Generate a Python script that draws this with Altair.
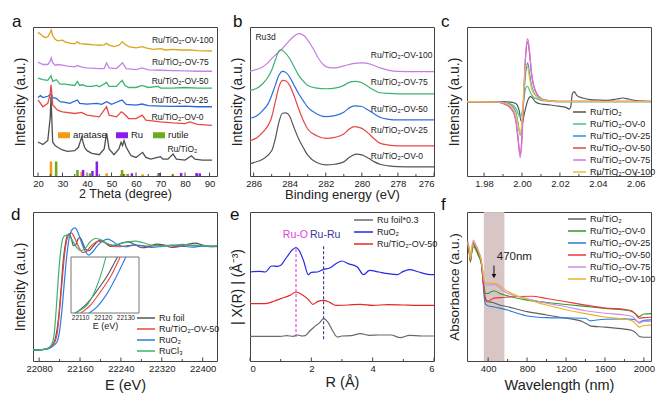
import altair as alt
import pandas as pd

FONT = "Liberation Sans"
W, H = 184, 149
INK = "#222222"
RECT = "M-1,-0.5L1,-0.5L1,0.5L-1,0.5Z"

# ---------------- panel a : XRD ----------------
a_names = ["Ru/TiO₂-OV-100", "Ru/TiO₂-OV-75", "Ru/TiO₂-OV-50", "Ru/TiO₂-OV-25", "Ru/TiO₂-OV-0", "Ru/TiO₂"]
a_colors = ["#d8a51c", "#c583e6", "#3bb273", "#2668d8", "#e94848", "#505050"]
a_ov100 = [(20,425),(21,420),(22,413),(23,410),(24,412),(25,425),(25.4,432),(26,415),(27,405),(28,400),(30,402),(31,397),(33,393),(35,391),(36,397),(37,392),(40,390),(43,388),(45,387),(47,388),(48,393),(49,387),(51,383),(53,387),(54.5,397),(55.5,390),(57,383),(60,379),(62.5,383),(64,379),(67,375),(70,377),(72,373),(75,375),(78,373),(82,373),(85,371),(91,370)]
a_ov75 = [(20,337),(22,330),(24,330),(25,340),(25.4,350),(26,335),(27,328),(28,330),(30,328),(32,325),(35,323),(36,327),(38,322),(40,320),(45,318),(47,318),(48,335),(49,320),(52,318),(54.5,335),(56,318),(60,315),(62.5,320),(65,314),(70,313),(75,312),(80,311),(85,310),(91,310)]
a_ov50 = [(20,290),(22,285),(24,283),(25.3,297),(26,280),(27.5,285),(29,272),(31,272),(33,270),(35,268),(36.1,280),(37,268),(38,270),(40,265),(42,265),(44,268),(45,264),(48,277),(49,265),(52,265),(54.3,283),(55.5,268),(57,262),(60,262),(62.5,268),(65,262),(69,265),(70,260),(75,260),(80,262),(85,260),(91,260)]
a_ov25 = [(20,232),(21,238),(22,232),(24,236),(25.3,242),(26,232),(27.5,230),(29,220),(31,218),(33,215),(36.1,225),(37,215),(40,213),(44,215),(46,212),(48,220),(50,212),(54.3,225),(56,212),(60,210),(62.5,213),(65,208),(70,207),(75,206),(80,207),(85,205),(91,205)]
a_ov0 = [(20,225),(22,205),(24,215),(24.9,240),(25.3,270),(25.7,240),(26,210),(28,195),(30,190),(35,185),(37.8,188),(40,180),(45,175),(48,205),(49,180),(52,175),(54,190),(55,185),(57,170),(60,170),(62.5,180),(64,165),(70,160),(75,157),(80,155),(82,160),(85,153),(91,150)]
a_ru = [(20,100),(21,97),(22,93),(24,105),(25,175),(25.3,235),(25.6,175),(26,100),(27,90),(28,85),(30,77),(32,73),(35,75),(36.5,85),(37.8,115),(39,85),(40,75),(42,67),(45,63),(47,80),(48,127),(49,80),(51,63),(53,80),(53.9,100),(54.5,90),(55.1,105),(56,85),(58,60),(60,55),(62.7,70),(64,55),(66,50),(68.8,55),(70,57),(71,50),(73,50),(75.1,65),(76.5,50),(80,47),(82.6,60),(84,50),(87,47),(91,47)]
a_label_x = [66.5, 66.5, 66.4, 66.3, 66.3, 72.8]
a_label_y = [403, 338, 280, 225, 175, 80]
phases = ["anatase", "Ru", "rutile"]
phase_colors = ["#f29b11", "#8a1cf0", "#6aab1f"]
stick_anatase = [(25.3,43),(37.8,12),(48.0,8),(53.9,6),(55.1,6),(62.7,5),(75.0,5)]
stick_ru = [(38.4,18),(42.2,15),(44.0,43),(58.3,8),(69.4,9),(78.4,9),(84.7,9),(86.0,8)]
stick_rutile = [(27.4,43),(36.1,18),(41.2,8),(54.3,18),(56.6,6),(69.0,5)]
a_ticks = [list(range(20, 91, 10)), list(range(25, 90, 10))]

# ---------------- panel b : XPS ----------------
b_names = ["Ru/TiO₂-OV-100", "Ru/TiO₂-OV-75", "Ru/TiO₂-OV-50", "Ru/TiO₂-OV-25", "Ru/TiO₂-OV-0"]
b_colors = ["#c77dde", "#3bb273", "#2f6fe0", "#e84545", "#555555"]
b_ov100 = [(286.2,312),(285.8,318),(285.5,325),(285.2,338),(285,350),(284.7,365),(284.4,380),(284.1,398),(283.8,415),(283.5,424),(283.2,418),(283,405),(282.7,380),(282.4,350),(282.1,330),(281.8,323),(281.5,322),(281,328),(280.5,335),(280,337),(279.5,333),(279,322),(278.5,315),(278,312),(277,311),(276,311)]
b_ov75 = [(286.2,255),(285.8,262),(285.5,275),(285.2,295),(285,315),(284.8,345),(284.6,372),(284.5,377),(284.3,370),(284,350),(283.8,330),(283.5,300),(283.2,280),(283,270),(282.5,262),(282,260),(281.5,262),(281,270),(280.7,279),(280.4,282),(280,278),(279.7,268),(279.3,255),(279,248),(278.5,246),(278,245),(277,245),(276,245)]
b_ov50 = [(286.2,172),(285.8,180),(285.5,195),(285.2,215),(285,240),(284.8,270),(284.6,300),(284.4,312),(284.2,308),(284,295),(283.8,275),(283.5,245),(283.2,220),(283,205),(282.5,185),(282,177),(281.5,180),(281,190),(280.7,203),(280.4,209),(280,207),(279.7,198),(279.3,185),(279,175),(278.5,169),(278,167),(277,167),(276,167)]
b_ov25 = [(286.2,105),(285.8,115),(285.5,130),(285,175),(284.8,220),(284.6,265),(284.4,285),(284.2,283),(284,270),(283.8,245),(283.5,200),(283.2,160),(283,140),(282.5,120),(282,112),(281.5,115),(281,125),(280.7,140),(280.4,147),(280,142),(279.7,130),(279.3,110),(279,98),(278.5,92),(278,90),(277,90),(276,90)]
b_ov0 = [(286.2,37),(286,40),(285.5,50),(285,75),(284.8,110),(284.6,160),(284.4,187),(284.2,188),(284,178),(283.8,150),(283.5,110),(283.2,80),(283,62),(282.5,40),(282,33),(281.5,35),(281,42),(280.7,55),(280.3,65),(280,63),(279.7,55),(279.3,42),(279,35),(278.5,30),(278,28),(277,27),(276,27)]
b_label_y = [362, 279, 200, 137, 60]
b_ticks = [[286, 284, 282, 280, 278, 276], [285, 283, 281, 279, 277]]

# ---------------- panel c : EPR ----------------
c_names = ["Ru/TiO₂", "Ru/TiO₂-OV-0", "Ru/TiO₂-OV-25", "Ru/TiO₂-OV-50", "Ru/TiO₂-OV-75", "Ru/TiO₂-OV-100"]
c_colors = ["#555555", "#4cc38a", "#3a8ee0", "#e8453f", "#cc77ee", "#e8c13a"]
c_ru = [(1.971,222),(1.990,222),(1.995,220),(1.997,215),(1.9985,195),(1.9995,165),(2.0003,160),(2.001,180),(2.002,205),(2.003,225),(2.0045,237),(2.0055,233),(2.007,222),(2.010,215),(2.015,212),(2.020,208),(2.023,205),(2.025,200),(2.0258,210),(2.0265,245),(2.0275,252),(2.029,240),(2.032,233),(2.036,228),(2.040,227),(2.045,226),(2.050,230),(2.053,233),(2.056,230),(2.060,225),(2.068,222)]
c_grid = [1.971,1.988,1.991,1.994,1.996,1.997,1.998,1.999,2.000,2.001,2.002,2.003,2.004,2.005,2.006,2.008,2.010,2.013,2.016,2.020,2.068]
c_ov75 = [222,220,215,205,185,160,110,55,110,250,370,410,370,310,275,245,232,226,224,223,223]
c_ov50 = [222,220,214,203,183,155,105,65,120,255,365,400,365,305,272,243,231,226,224,223,223]
c_ov25 = [222,221,218,212,200,185,155,122,150,240,310,338,305,270,252,236,229,225,223,222,222]
c_ov100 = [222,221,218,210,195,180,150,125,165,265,330,325,290,262,248,236,229,225,223,222,222]
c_ov0 = [222,221,219,215,208,200,185,175,190,230,262,268,255,243,236,230,226,224,223,222,222]
c_ticks = [[1.98, 2.00, 2.02, 2.04, 2.06], [1.99, 2.01, 2.03, 2.05]]

# ---------------- panel d : XANES ----------------
d_names = ["Ru foil", "Ru/TiO₂-OV-50", "RuO₂", "RuCl₃"]
d_colors = ["#555555", "#e84545", "#2f7ae0", "#3bb273"]
d_foil = [(22068,33),(22090,35),(22100,40),(22105,45),(22112,70),(22118,130),(22123,220),(22127,300),(22131,350),(22135,378),(22139,385),(22143,370),(22147,348),(22151,350),(22156,368),(22160,373),(22165,358),(22171,338),(22177,333),(22185,345),(22195,362),(22201,365),(22210,356),(22220,346),(22232,350),(22245,358),(22255,360),(22267,352),(22281,342),(22296,346),(22310,353),(22325,350),(22340,343),(22356,346),(22372,353),(22386,356),(22400,350),(22414,345),(22428,347)]
d_ov50 = [(22068,33),(22090,35),(22100,40),(22110,55),(22116,90),(22121,170),(22126,260),(22130,325),(22134,365),(22139,383),(22143,387),(22150,370),(22158,343),(22165,328),(22172,330),(22180,345),(22190,358),(22198,362),(22208,358),(22220,350),(22235,345),(22250,348),(22270,350),(22290,347),(22310,348),(22330,349),(22350,346),(22370,348),(22390,349),(22410,347),(22428,347)]
d_ruo2 = [(22068,33),(22090,35),(22100,38),(22114,55),(22120,90),(22125,160),(22130,250),(22135,330),(22140,380),(22145,398),(22150,402),(22155,392),(22162,362),(22170,332),(22177,320),(22185,330),(22195,350),(22205,363),(22214,368),(22222,363),(22235,350),(22250,345),(22265,350),(22280,348),(22300,343),(22320,346),(22340,350),(22360,347),(22380,344),(22400,347),(22428,345)]
d_rucl3 = [(22068,33),(22090,35),(22100,42),(22106,55),(22110,90),(22114,170),(22118,260),(22122,330),(22126,368),(22130,378),(22135,380),(22140,376),(22146,362),(22155,340),(22162,333),(22170,340),(22180,360),(22190,370),(22200,367),(22212,355),(22225,350),(22240,355),(22255,360),(22268,362),(22282,358),(22300,350),(22320,347),(22340,349),(22360,352),(22380,350),(22400,348),(22428,347)]
inset_foil = [(22108.2,0),(22113.3,18),(22118.4,45),(22122.8,72),(22126.5,100)]
inset_ov50 = [(22110.4,0),(22114.8,15),(22119.2,39),(22123.6,66),(22127.7,100)]
inset_ruo2 = [(22114.0,0),(22117.7,12),(22122.1,36),(22126.5,69),(22130.2,100)]
inset_rucl3 = [(22107.5,0),(22110.0,5),(22113.3,15),(22115.5,30),(22117.7,51),(22119.9,78),(22121.4,100)]
inset_box = [22106, 22136, 0, 100]
d_ticks = [[22080, 22160, 22240, 22320, 22400], [22120, 22200, 22280, 22360]]

# ---------------- panel e : EXAFS ----------------
e_names = ["Ru foil*0.3", "RuO₂", "Ru/TiO₂-OV-50"]
e_colors = ["#6a6a6a", "#2828e6", "#e62828"]
e_foil = [(0,74),(0.5,74),(1.0,74),(1.2,76),(1.4,74),(1.55,78),(1.7,75),(1.8,76),(1.95,90),(2.1,103),(2.25,113),(2.4,127),(2.55,115),(2.7,90),(2.85,72),(3.0,75),(3.3,76),(3.6,82),(3.9,77),(4.2,78),(4.6,78),(4.9,70),(5.2,77),(5.6,75),(6.0,75)]
e_ruo2 = [(0,267),(0.3,269),(0.5,267),(0.7,285),(0.9,284),(1.0,287),(1.2,312),(1.4,335),(1.5,340),(1.6,332),(1.75,300),(1.9,259),(2.0,266),(2.2,267),(2.4,275),(2.6,279),(2.8,292),(3.0,300),(3.2,292),(3.5,282),(3.7,259),(3.9,272),(4.2,267),(4.5,262),(4.8,259),(5.0,269),(5.2,274),(5.5,267),(5.8,260),(6.0,259)]
e_ov50 = [(0,172),(0.5,172),(0.8,180),(1.0,187),(1.3,197),(1.5,207),(1.7,199),(1.9,185),(2.05,170),(2.2,178),(2.4,182),(2.6,176),(2.8,167),(3.2,168),(3.6,170),(4.0,167),(4.5,169),(5.0,168),(5.5,167),(6.0,167)]
e_ref_x = [1.5, 2.4]
e_ref_y = [72, 65]
e_ref_y2 = [342, 347]
e_ref_text = ["Ru-O", "Ru-Ru"]
e_ref_color = ["#e040e0", "#36369c"]
e_ref_label_x = [1.48, 2.45]
e_ref_label_y = [377, 377]
e_ticks = [[0, 2, 4, 6], [1, 3, 5]]

# ---------------- panel f : UV-vis ----------------
f_names = ["Ru/TiO₂", "Ru/TiO₂-OV-0", "Ru/TiO₂-OV-25", "Ru/TiO₂-OV-50", "Ru/TiO₂-OV-75", "Ru/TiO₂-OV-100"]
f_colors = ["#606060", "#2e9a2e", "#2b7bd8", "#e83a3a", "#d08ae8", "#e8b426"]
f_ru = [(190,355),(205,335),(218,305),(230,330),(248,355),(270,345),(300,325),(330,300),(345,260),(358,215),(372,190),(400,180),(450,178),(500,172),(600,165),(800,150),(1000,140),(1200,130),(1350,122),(1420,112),(1460,106),(1600,103),(1800,97),(1880,93),(1920,85),(1950,75),(2000,72),(2073,72)]
f_ov0 = [(190,350),(205,330),(218,300),(230,325),(250,348),(270,340),(300,320),(330,295),(345,255),(360,220),(375,205),(400,205),(440,212),(470,213),(520,205),(600,198),(800,185),(1000,178),(1200,172),(1400,166),(1600,160),(1800,155),(1880,150),(1920,142),(1950,135),(2000,143),(2073,144)]
f_ov25 = [(190,358),(205,338),(218,308),(230,335),(250,360),(270,348),(300,328),(330,300),(345,250),(360,195),(375,172),(400,168),(450,165),(500,162),(600,155),(700,145),(800,137),(1000,132),(1200,131),(1400,130),(1450,122),(1500,124),(1600,127),(1800,128),(1900,126),(1950,118),(2000,124),(2073,125)]
f_ov50 = [(190,355),(205,335),(218,305),(230,335),(250,362),(270,350),(300,330),(330,300),(345,255),(360,210),(375,185),(390,180),(420,185),(470,192),(550,193),(700,196),(850,197),(1000,190),(1200,180),(1400,170),(1600,161),(1800,157),(1880,152),(1920,140),(1950,130),(2000,132),(2073,133)]
f_ov75 = [(190,365),(205,345),(218,312),(230,342),(250,368),(270,356),(300,336),(330,305),(345,270),(360,240),(375,232),(420,231),(470,233),(550,215),(600,206),(800,190),(1000,176),(1200,165),(1400,153),(1600,145),(1800,140),(1880,135),(1920,125),(1950,115),(2000,120),(2073,121)]
f_ov100 = [(190,360),(205,340),(218,310),(230,338),(250,362),(270,352),(300,333),(330,305),(345,275),(360,245),(375,237),(420,236),(470,237),(550,222),(600,212),(800,188),(1000,170),(1200,156),(1400,144),(1600,134),(1800,127),(1880,122),(1920,112),(1950,103),(2000,108),(2073,109)]
f_band = [356, 567]
f_arrow = [460, 290, 258]
f_note = [489, 317, "470nm"]
f_ticks = [[400, 800, 1200, 1600, 2000], [600, 1000, 1400, 1800]]


def long_df(names, series):
    rows = []
    for i, (n, pts) in enumerate(zip(names, series)):
        for x, y in pts:
            rows.append({"x": x, "y": y, "s": n, "k": i})
    return pd.DataFrame(rows)


def xaxis(title, values, fmt=None, tsize=13, tpad=2):
    kw = dict(title=title, values=values, grid=False, domain=False, ticks=False,
              labelFontSize=9.5, titleFontSize=tsize, labelPadding=2, titlePadding=tpad,
              labelColor=INK, titleColor=INK, titleFontWeight="normal", labelFont=FONT, titleFont=FONT)
    if fmt:
        kw["format"] = fmt
    return alt.Axis(**kw)


def yaxis(title, tsize=14):
    return alt.Axis(title=title, labels=False, ticks=False, domain=False, grid=False,
                    titleFontSize=tsize, titlePadding=6, titleFontWeight="normal",
                    titleColor=INK, titleFont=FONT)


def sx(dom, rev=False):
    return alt.Scale(domain=dom, nice=False, zero=False, reverse=rev)


def ptitle(letter, dx, offset):
    return alt.TitleParams(letter, anchor="start", frame="group", fontSize=17, fontWeight="normal",
                           font=FONT, color="#111111", dx=dx, offset=offset, baseline="alphabetic")


def line_legend(x, y, size, row_h):
    return alt.Legend(title=None, orient="none", legendX=x, legendY=y, symbolType="stroke",
                      symbolSize=size, symbolStrokeWidth=1.6, labelFontSize=9, labelFont=FONT,
                      labelColor=INK, rowPadding=0, clipHeight=row_h, labelOffset=3)


def tick_layers(ticks, X):
    out = []
    for vals, ln in zip(ticks, [3.5, 2.0]):
        out.append(alt.Chart(pd.DataFrame({"x": vals})).mark_rule(color="#444444", strokeWidth=1).encode(
            x=X, y=alt.value(H), y2=alt.value(H - ln)))
    return out

# ---------------- build a ----------------
XA = alt.X("x:Q", scale=sx([20, 91]), axis=xaxis("2 Theta (degree)", a_ticks[0], "d", 12.5, 0))
YA = alt.Y("y:Q", scale=sx([0, 441]), axis=yaxis("Intensity (a.u.)"))
a_df = long_df(a_names, [a_ov100, a_ov75, a_ov50, a_ov25, a_ov0, a_ru])
a_lines = alt.Chart(a_df).mark_line(strokeWidth=1.3, clip=True).encode(
    x=XA, y=YA, color=alt.Color("s:N", scale=alt.Scale(domain=a_names, range=a_colors), legend=None), detail="k:N")
stick_rows = []
for ph, pts in zip(phases, [stick_anatase, stick_ru, stick_rutile]):
    for x, h in pts:
        stick_rows.append({"x": x, "y": h, "phase": ph})
a_sticks = alt.Chart(pd.DataFrame(stick_rows)).mark_bar(size=2.5, orient="vertical").encode(
    x=XA, y=YA,
    color=alt.Color("phase:N", scale=alt.Scale(domain=phases, range=phase_colors),
                    legend=alt.Legend(title=None, orient="none", direction="horizontal", legendX=25, legendY=102,
                                      symbolType=RECT, symbolSize=144, symbolStrokeWidth=0, labelFontSize=9.5,
                                      labelFont=FONT, labelColor=INK, columnPadding=9, labelOffset=3)))
a_text = alt.Chart(pd.DataFrame({"x": a_label_x, "y": a_label_y, "t": a_names})).mark_text(
    align="left", baseline="middle", fontSize=8.5, font=FONT, color=INK).encode(x=XA, y=YA, text="t:N")
pa = alt.layer(a_lines, a_sticks, a_text, *tick_layers(a_ticks, XA)).resolve_scale(color="independent").properties(
    width=W, height=H, title=ptitle("a", -21, -17))

# ---------------- build b ----------------
XB = alt.X("x:Q", scale=sx([276, 286.2], True), axis=xaxis("Binding energy (eV)", b_ticks[0], "d", 13, 1))
YB = alt.Y("y:Q", scale=sx([0, 444]), axis=yaxis("Intensity (a.u.)"))
b_df = long_df(b_names, [b_ov100, b_ov75, b_ov50, b_ov25, b_ov0])
b_lines = alt.Chart(b_df).mark_line(strokeWidth=1.2, clip=True, interpolate="monotone").encode(
    x=XB, y=YB, color=alt.Color("s:N", scale=alt.Scale(domain=b_names, range=b_colors), legend=None), detail="k:N")
b_text = alt.Chart(pd.DataFrame({"x": [279.5] * 5 + [285.9], "y": b_label_y + [415], "t": b_names + ["Ru3d"]})).mark_text(
    align="left", baseline="middle", fontSize=8.5, font=FONT, color=INK).encode(x=XB, y=YB, text="t:N")
pb = alt.layer(b_lines, b_text, *tick_layers(b_ticks, XB)).properties(width=W, height=H, title=ptitle("b", -17, -17))

# ---------------- build c ----------------
XC = alt.X("x:Q", scale=sx([1.971, 2.068]), axis=xaxis(None, c_ticks[0], ".2f"))
YC = alt.Y("y:Q", scale=sx([0, 445]), axis=yaxis("Intensity (a.u.)"))
c_series = [c_ru, list(zip(c_grid, c_ov0)), list(zip(c_grid, c_ov25)), list(zip(c_grid, c_ov50)),
            list(zip(c_grid, c_ov75)), list(zip(c_grid, c_ov100))]
c_df = long_df(c_names, c_series)
c_lines = alt.Chart(c_df).mark_line(strokeWidth=1.2, clip=True, interpolate="monotone").encode(
    x=XC, y=YC, color=alt.Color("s:N", scale=alt.Scale(domain=c_names, range=c_colors),
                                legend=line_legend(105, 79.4, 169, 11.3)), detail="k:N")
pc = alt.layer(c_lines, *tick_layers(c_ticks, XC)).properties(width=W, height=H, title=ptitle("c", -26, -17))

# ---------------- build d ----------------
XD = alt.X("x:Q", scale=sx([22068, 22428]), axis=xaxis("E (eV)", d_ticks[0], "d", 14.5, 6))
YD = alt.Y("y:Q", scale=sx([0, 450]), axis=yaxis("Intensity (a.u.)"))
d_df = long_df(d_names, [d_foil, d_ov50, d_ruo2, d_rucl3])
d_color = alt.Color("s:N", scale=alt.Scale(domain=d_names, range=d_colors), legend=line_legend(103, 100.5, 324, 11))
d_lines = alt.Chart(d_df).mark_line(strokeWidth=1.2, clip=True, interpolate="monotone").encode(
    x=XD, y=YD, color=d_color, detail="k:N")
inset_axis = alt.Axis(orient="bottom", offset=-(H - 101), values=[22110, 22120, 22130], format="d",
                      title="E (eV)", grid=False, domain=False, ticks=False, labelFontSize=6.5,
                      titleFontSize=9, labelPadding=1, titlePadding=1, labelColor=INK,
                      titleColor=INK, titleFontWeight="normal", labelFont=FONT, titleFont=FONT)
XI = alt.X("x:Q", scale=alt.Scale(domain=inset_box[:2], range=[38, 106], nice=False, zero=False), axis=inset_axis)
YI = alt.Y("y:Q", scale=alt.Scale(domain=inset_box[2:], range=[101, 45], nice=False, zero=False), axis=None)
inset_frame = alt.Chart(pd.DataFrame({"x": [inset_box[0]], "x2": [inset_box[1]], "y": [inset_box[2]], "y2": [inset_box[3]]})).mark_rect(
    fill="white", stroke="#777777", strokeWidth=1).encode(x=XI, x2="x2:Q", y=YI, y2="y2:Q")
inset_df = long_df(d_names, [inset_foil, inset_ov50, inset_ruo2, inset_rucl3])
inset_lines = alt.Chart(inset_df).mark_line(strokeWidth=1.1, interpolate="monotone").encode(
    x=XI, y=YI, color=d_color, detail="k:N")
pd_ = alt.layer(alt.layer(d_lines, *tick_layers(d_ticks, XD)), alt.layer(inset_frame, inset_lines)).resolve_scale(
    x="independent", y="independent").properties(width=W, height=H, title=ptitle("d", -22, -25))

# ---------------- build e ----------------
XE = alt.X("x:Q", scale=sx([0, 6]), axis=xaxis("R (Å)", e_ticks[0], "d", 14.5, 3))
YE = alt.Y("y:Q", scale=sx([0, 447]), axis=yaxis("| X(R) |  (Å⁻³)"))
e_df = long_df(e_names, [e_foil, e_ruo2, e_ov50])
e_lines = alt.Chart(e_df).mark_line(strokeWidth=1.2, clip=True, interpolate="monotone").encode(
    x=XE, y=YE, color=alt.Color("s:N", scale=alt.Scale(domain=e_names, range=e_colors),
                                legend=line_legend(103, 2.25, 361, 11.5)), detail="k:N")
e_rules = alt.Chart(pd.DataFrame({"x": e_ref_x, "y": e_ref_y, "y2": e_ref_y2, "c": e_ref_color})).mark_rule(
    strokeDash=[3, 2], strokeWidth=1.1).encode(x=XE, y=YE, y2="y2:Q", color=alt.Color("c:N", scale=None))
e_lab = alt.Chart(pd.DataFrame({"x": e_ref_label_x, "y": e_ref_label_y, "t": e_ref_text, "c": e_ref_color})).mark_text(
    fontSize=10.5, font=FONT, baseline="middle").encode(x=XE, y=YE, text="t:N", color=alt.Color("c:N", scale=None))
pe = alt.layer(e_lines, e_rules, e_lab, *tick_layers(e_ticks, XE)).properties(width=W, height=H, title=ptitle("e", -20, -25))

# ---------------- build f ----------------
XF = alt.X("x:Q", scale=sx([183, 2073]), axis=xaxis("Wavelength (nm)", f_ticks[0], "d", 14.5, 6))
YF = alt.Y("y:Q", scale=sx([0, 453]), axis=yaxis("Absorbance (a.u.)", 13.5))
f_df = long_df(f_names, [f_ru, f_ov0, f_ov25, f_ov50, f_ov75, f_ov100])
f_bandc = alt.Chart(pd.DataFrame({"x": [f_band[0]], "x2": [f_band[1]]})).mark_rect(color="#d6c2c2", opacity=0.95).encode(
    x=XF, x2="x2:Q")
f_lines = alt.Chart(f_df).mark_line(strokeWidth=1.1, clip=True, interpolate="monotone").encode(
    x=XF, y=YF, color=alt.Color("s:N", scale=alt.Scale(domain=f_names, range=f_colors),
                                legend=line_legend(100, 1, 324, 12)), detail="k:N")
f_arr = alt.Chart(pd.DataFrame({"x": [f_arrow[0]], "y": [f_arrow[1]], "y2": [f_arrow[2]]})).mark_rule(
    color="#111111", strokeWidth=1).encode(x=XF, y=YF, y2="y2:Q")
f_head = alt.Chart(pd.DataFrame({"x": [f_arrow[0]], "y": [f_arrow[2]]})).mark_point(
    shape="triangle-down", filled=True, color="#111111", size=22, opacity=1).encode(x=XF, y=YF)
f_txt = alt.Chart(pd.DataFrame({"x": [f_note[0]], "y": [f_note[1]], "t": [f_note[2]]})).mark_text(
    align="left", baseline="middle", fontSize=11.5, font=FONT, color=INK).encode(x=XF, y=YF, text="t:N")
pf = alt.layer(f_bandc, f_lines, f_arr, f_head, f_txt, *tick_layers(f_ticks, XF)).properties(
    width=W, height=H, title=ptitle("f", -26, -15))

chart = alt.concat(pa, pb, pc, pd_, pe, pf, columns=3, spacing={"row": 36, "column": 33}, bounds="flush").resolve_scale(
    color="independent", x="independent", y="independent").properties(
    padding={"left": 2, "top": 4, "right": 2, "bottom": 2}, background="white").configure(font=FONT).configure_view(
    stroke="#444444", strokeWidth=1)

chart.save("out.html", embed_options={"renderer": "svg", "actions": False})
